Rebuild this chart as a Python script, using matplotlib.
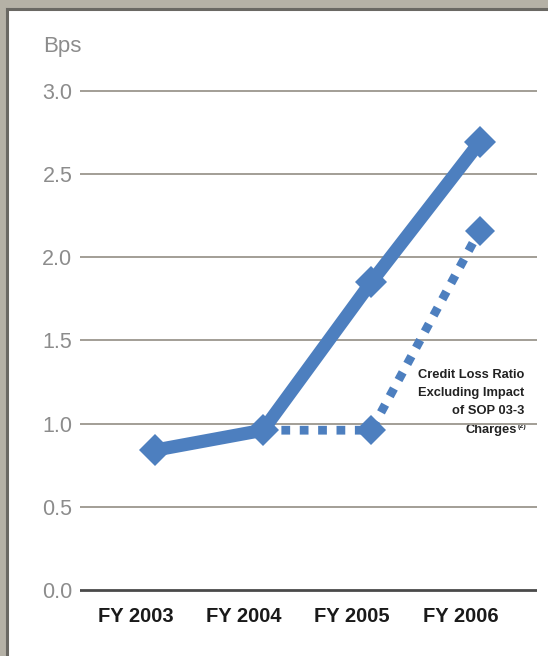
import matplotlib
matplotlib.use("Agg")
import matplotlib.pyplot as plt
from matplotlib.patches import Rectangle
from matplotlib.transforms import ScaledTranslation

plt.rcParams['font.family'] = ['Liberation Sans', 'DejaVu Sans']

categories = ["FY 2003", "FY 2004", "FY 2005", "FY 2006"]
credit_loss = [0.84, 0.96, 1.85, 2.69]
excl_years = ["FY 2004", "FY 2005", "FY 2006"]
credit_loss_excl = [0.96, 0.96, 2.16]
yticks = [0.0, 0.5, 1.0, 1.5, 2.0, 2.5, 3.0]
ytick_labels = ["0.0", "0.5", "1.0", "1.5", "2.0", "2.5", "3.0"]

W, H = 548, 656
fig = plt.figure(figsize=(W / 100, H / 100), dpi=100)
fig.patch.set_facecolor('#b5b1a6')
# white panel with dark edge lines at top/left
fig.patches.append(Rectangle((8 / W, 0), 1 - 8 / W, 1 - 9 / H, transform=fig.transFigure,
                             facecolor='white', edgecolor='none', zorder=0))
fig.lines.append(plt.Line2D([7 / W, 1], [1 - 8.5 / H, 1 - 8.5 / H], transform=fig.transFigure,
                            color='#6a6863', lw=2.2))
fig.lines.append(plt.Line2D([7 / W, 7 / W], [0, 1 - 8.5 / H], transform=fig.transFigure,
                            color='#6a6863', lw=2.2))

ppu = 166.3
y0pix = 590 + 0.02 * ppu
ytop = 90.7 - 0.02 * ppu
left, right = 80, 537
ax = fig.add_axes([left / W, 1 - y0pix / H, (right - left) / W, (y0pix - ytop) / H])
ax.set_facecolor('none')
ax.set_zorder(5)

x = list(range(len(categories)))
xe = [categories.index(c) for c in excl_years]
color = '#4d7fbf'

ax.plot(xe, credit_loss_excl, color=color, lw=6.3, linestyle=(0, (1.0, 1.1)),
        dash_capstyle='butt', marker='D', markersize=15, markeredgewidth=0, zorder=3)
ax.plot(x, credit_loss, color=color, lw=9.5, solid_capstyle='butt', solid_joinstyle='round',
        marker='D', markersize=16, markeredgewidth=0, zorder=4)

ax.set_xlim(-0.69, 3.53)
ax.set_ylim(-0.02, 3.02)

for yv in yticks:
    if yv == 0:
        ax.axhline(yv, color='#4a4a4a', lw=2.0, zorder=1)
    else:
        ax.axhline(yv, color='#a29e96', lw=1.4, zorder=1)

ax.set_yticks(yticks)
ax.set_yticklabels(ytick_labels, fontsize=15.5, color='#8c8c8c')
ax.tick_params(axis='y', length=0, pad=5.5)
ax.set_xticks(x)
ax.set_xticklabels(categories, fontsize=14.5, fontweight='bold', color='#1a1a1a')
ax.tick_params(axis='x', length=0, pad=10)
off = ScaledTranslation(-19 / 100, 0, fig.dpi_scale_trans)
for lab in ax.get_xticklabels():
    lab.set_transform(lab.get_transform() + off)

for s in ax.spines.values():
    s.set_visible(False)

fig.text(43 / W, 1 - 52 / H, "Bps", fontsize=16, color='#8c8c8c', ha='left', va='baseline')

# annotation
ann = dict(fontsize=9.3, fontweight='bold', color='#222222', ha='right', va='center')
fig.text(524 / W, 1 - 375 / H, "Credit Loss Ratio", **ann)
fig.text(524 / W, 1 - 393 / H, "Excluding Impact", **ann)
fig.text(524 / W, 1 - 411 / H, "of SOP 03-3", **ann)
fig.text(517 / W, 1 - 430 / H, "Charges", **ann)
fig.text(518 / W, 1 - 426 / H, "(2)", fontsize=5, fontweight='bold', color='#222222',
         ha='left', va='center')

fig.savefig("out.png", dpi=100, facecolor=fig.get_facecolor())
